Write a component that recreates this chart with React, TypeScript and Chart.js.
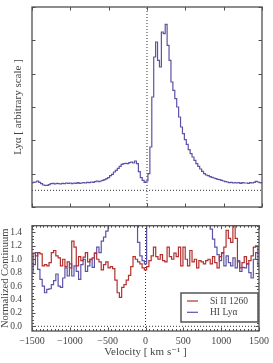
import React, { useEffect, useRef } from 'react';
import { Chart, registerables } from 'chart.js';

Chart.register(...registerables);

// ---------- data ----------
const VEL_MIN = -1500;
const VEL_MAX = 1500;
const xTickStep = 500;

// Top panel: Lyα flux (arbitrary scale), bins of 25 km/s starting at -1500
const topBinWidth = 25;
const topLyaFlux = [
  0.22, 0.24, 0.25, 0.28, 0.24, 0.20, 0.16, 0.15, 0.15, 0.17, // -1500..-1275
  0.20, 0.21, 0.19, 0.21, 0.20, 0.19, 0.21, 0.20, 0.22, 0.21, // -1250..-1025
  0.22, 0.20, 0.22, 0.21, 0.23, 0.21, 0.22, 0.23, 0.22, 0.24, // -1000..-775
  0.23, 0.25, 0.24, 0.26, 0.28, 0.26, 0.28, 0.30, 0.32, 0.35, // -750..-525
  0.38, 0.44, 0.48, 0.55, 0.60, 0.66, 0.72, 0.78, 0.80, 0.81, // -500..-275
  0.80, 0.83, 0.85, 0.82, 0.88, 0.80, 0.56, 0.38, 0.30, 0.24, // -250..-25
  0.28, 0.50, 1.30, 2.80, 4.00, 4.45, 3.90, 3.70, 4.75, 4.70, // 0..225
  4.98, 4.35, 3.90, 3.25, 3.00, 2.75, 2.50, 2.20, 1.90, 1.70, // 250..475
  1.52, 1.38, 1.22, 1.10, 1.00, 0.90, 0.80, 0.72, 0.64, 0.57, // 500..725
  0.50, 0.46, 0.44, 0.41, 0.39, 0.37, 0.35, 0.33, 0.32, 0.30, // 750..975
  0.28, 0.26, 0.25, 0.23, 0.24, 0.22, 0.23, 0.22, 0.23, 0.21, // 1000..1225
  0.23, 0.22, 0.22, 0.21, 0.23, 0.22, 0.24, 0.27, 0.25, 0.23, // 1250..1475
  0.22, // 1500
];

// Bottom panel: normalized continuum, bins of 30 km/s starting at -1500
const bottomBinWidth = 30;
const siII1260 = [
  0.93, 1.09, 1.05, 1.10, 1.08, 0.90, 0.92, 0.90, 0.95, 1.10, // -1500..-1230
  1.13, 1.05, 1.02, 0.90, 1.00, 0.89, 0.96, 0.87, 1.27, 1.18, // -1200..-930
  0.90, 1.04, 0.98, 1.03, 1.10, 0.96, 1.00, 1.02, 1.09, 1.00, // -900..-630
  0.96, 0.84, 0.92, 0.96, 0.87, 0.89, 0.86, 0.69, 0.50, 0.43, // -600..-330
  0.58, 0.62, 0.69, 0.76, 0.89, 1.04, 1.00, 0.96, 0.93, 0.87, // -300..-30
  0.84, 0.89, 0.98, 1.05, 1.18, 1.04, 1.00, 1.07, 0.98, 0.96, // 0..270
  1.18, 1.04, 1.00, 1.09, 1.04, 1.18, 0.90, 1.18, 1.00, 0.90, // 300..570
  1.13, 0.96, 1.00, 0.87, 0.98, 0.96, 0.93, 0.98, 1.00, 0.93, // 600..870
  1.04, 0.95, 0.87, 1.04, 1.10, 1.18, 1.43, 1.31, 1.25, 1.50, // 900..1170
  1.31, 0.96, 0.87, 0.95, 1.04, 0.93, 0.98, 1.05, 1.18, 1.20, // 1200..1470
  1.09, // 1500
];
const hiLyaNorm = [
  0.80, 0.92, 1.10, 0.85, 0.70, 0.60, 0.50, 0.55, 0.56, 0.62, // -1500..-1230
  0.68, 0.78, 0.60, 0.58, 0.72, 0.87, 0.75, 0.93, 0.75, 0.90, // -1200..-930
  0.82, 0.70, 0.92, 1.00, 0.82, 0.90, 1.00, 0.88, 1.09, 1.18, // -900..-630
  1.10, 1.27, 1.33, 1.42, 1.65, 1.90, 2.10, 2.50, 2.90, 3.30, // -600..-330
  3.60, 3.70, 3.60, 3.80, 3.80, 3.90, 3.30, 1.25, 1.05, 0.98, // -300..-30
  0.93, 2.60, 7.50, 15.0, 20.0, 17.0, 19.0, 21.0, 22.0, 20.0, // 0..270
  17.0, 14.0, 13.0, 12.0, 10.5, 8.80, 7.80, 6.80, 5.90, 5.10, // 300..570
  4.50, 4.00, 3.50, 3.00, 2.60, 2.30, 2.00, 1.80, 1.60, 1.45, // 600..870
  1.30, 1.18, 1.07, 0.98, 1.09, 0.90, 1.05, 0.95, 0.90, 1.02, // 900..1170
  0.87, 0.98, 0.82, 0.88, 0.87, 0.93, 0.80, 0.72, 1.00, 1.10, // 1200..1470
  0.90, // 1500
];
const seriesLabels = ['Si II 1260', 'HI Lyα'];
const zeroVelocity = 0;
const zeroLevel = 0;

const topYRange = [-0.5, 5.5];
const bottomYRange = [-0.07, 1.5];

// ---------- style ----------
const FONT = "'Liberation Serif', 'DejaVu Serif', serif";
const TEXT = '#444444';
const FRAME = '#505050';
const BLUE = '#5c53a6';
const RED = '#b3302f';

const toPoints = (vals: number[], step: number) =>
  vals.map((y, i) => ({ x: VEL_MIN + i * step, y }));

const fmtVel = (v: number) => (v < 0 ? '\u2212' + Math.abs(v) : String(v));

function makeFramePlugin(minorX: number, minorY: number) {
  return {
    id: 'frameTicks',
    afterDatasetsDraw(chart: any) {
      const { ctx, chartArea } = chart;
      const { left, right, top, bottom } = chartArea;
      const xs = chart.scales.x;
      const ys = chart.scales.y;
      const major = 3.5;
      const minor = 2;
      ctx.save();
      ctx.strokeStyle = FRAME;
      ctx.lineWidth = 1;
      ctx.beginPath();
      const vx = (px: number, len: number) => {
        const p = Math.round(px) + 0.5;
        ctx.moveTo(p, bottom);
        ctx.lineTo(p, bottom - len);
        ctx.moveTo(p, top);
        ctx.lineTo(p, top + len);
      };
      const hy = (py: number, len: number) => {
        const p = Math.round(py) + 0.5;
        ctx.moveTo(left, p);
        ctx.lineTo(left + len, p);
        ctx.moveTo(right, p);
        ctx.lineTo(right - len, p);
      };
      xs.ticks.forEach((t: any) => vx(xs.getPixelForValue(t.value), major));
      ys.ticks.forEach((t: any) => hy(ys.getPixelForValue(t.value), major));
      if (minorX > 0) {
        const n0 = Math.ceil(xs.min / minorX);
        const n1 = Math.floor(xs.max / minorX);
        for (let i = n0; i <= n1; i++) vx(xs.getPixelForValue(i * minorX), minor);
      }
      if (minorY > 0) {
        const n0 = Math.ceil(ys.min / minorY - 1e-9);
        const n1 = Math.floor(ys.max / minorY + 1e-9);
        for (let i = n0; i <= n1; i++) hy(ys.getPixelForValue(i * minorY), minor);
      }
      ctx.stroke();
      ctx.lineWidth = 1.3;
      ctx.strokeRect(left, top, right - left, bottom - top);
      ctx.restore();
    },
  };
}

const insetLegend = {
  id: 'insetLegend',
  afterDraw(chart: any) {
    const items = chart.data.datasets.filter((d: any) => d.label);
    const { ctx, chartArea } = chart;
    const w = 77;
    const h = 29;
    const x0 = chartArea.right - 1 - w;
    const y0 = chartArea.bottom - 9 - h;
    ctx.save();
    ctx.fillStyle = '#ffffff';
    ctx.fillRect(x0, y0, w, h);
    ctx.strokeStyle = '#555555';
    ctx.lineWidth = 1.5;
    ctx.strokeRect(x0, y0, w, h);
    ctx.font = `9.5px ${FONT}`;
    ctx.textBaseline = 'middle';
    ctx.textAlign = 'left';
    items.forEach((d: any, i: number) => {
      const yy = y0 + 8 + i * 11.3;
      ctx.strokeStyle = d.borderColor;
      ctx.lineWidth = 1.2;
      ctx.beginPath();
      ctx.moveTo(x0 + 6, yy);
      ctx.lineTo(x0 + 17, yy);
      ctx.stroke();
      ctx.fillStyle = TEXT;
      ctx.fillText(d.label, x0 + 29, yy);
    });
    ctx.restore();
  },
};

const dotted = (data: any[]) => ({
  data,
  borderColor: '#333333',
  borderWidth: 1,
  borderDash: [1, 2],
  pointRadius: 0,
  fill: false,
  clip: 0,
});

const xScale = (showLabels: boolean, height: number) => ({
  type: 'linear',
  min: VEL_MIN,
  max: VEL_MAX,
  grid: { display: false, drawTicks: false },
  border: { display: false },
  ticks: {
    display: showLabels,
    stepSize: xTickStep,
    autoSkip: false,
    maxRotation: 0,
    padding: 4,
    color: TEXT,
    font: { family: FONT, size: 10 },
    callback: (v: any) => fmtVel(Number(v)),
  },
  title: showLabels
    ? {
        display: true,
        text: 'Velocity [ km s\u207B\u00B9 ]',
        color: TEXT,
        font: { family: FONT, size: 11 },
        padding: { top: 0, bottom: 4.4 },
      }
    : { display: false },
  afterFit: (s: any) => {
    s.height = height;
  },
});

function App() {
  const topRef = useRef<HTMLCanvasElement>(null);
  const botRef = useRef<HTMLCanvasElement>(null);

  useEffect(() => {
    const top = new Chart(topRef.current as HTMLCanvasElement, {
      type: 'line',
      data: {
        datasets: [
          {
            data: toPoints(topLyaFlux, topBinWidth),
            borderColor: BLUE,
            borderWidth: 1.2,
            stepped: 'middle',
            pointRadius: 0,
            fill: false,
            clip: 0,
          } as any,
          dotted([
            { x: zeroVelocity, y: topYRange[0] },
            { x: zeroVelocity, y: topYRange[1] },
          ]),
          dotted([
            { x: VEL_MIN, y: zeroLevel },
            { x: VEL_MAX, y: zeroLevel },
          ]),
        ],
      },
      options: {
        responsive: false,
        animation: false,
        devicePixelRatio: 1,
        layout: { padding: { top: 7, right: 11, left: 0, bottom: 0 } },
        plugins: { legend: { display: false }, tooltip: { enabled: false } },
        scales: {
          x: xScale(false, 3) as any,
          y: {
            type: 'linear',
            min: topYRange[0],
            max: topYRange[1],
            grid: { display: false, drawTicks: false },
            border: { display: false },
            ticks: { display: false, stepSize: 1, includeBounds: false },
            title: {
              display: true,
              text: 'Lyα [ arbitrary scale ]',
              color: TEXT,
              font: { family: FONT, size: 11 },
              padding: { top: 11.4, bottom: 0 },
            },
            afterFit: (s: any) => {
              s.width = 32;
            },
          },
        },
      },
      plugins: [makeFramePlugin(0, 0)],
    });

    const bot = new Chart(botRef.current as HTMLCanvasElement, {
      type: 'line',
      data: {
        datasets: [
          {
            label: seriesLabels[0],
            data: toPoints(siII1260, bottomBinWidth),
            borderColor: RED,
            borderWidth: 1.2,
            stepped: 'middle',
            pointRadius: 0,
            fill: false,
            clip: 0,
          } as any,
          {
            label: seriesLabels[1],
            data: toPoints(hiLyaNorm, bottomBinWidth),
            borderColor: BLUE,
            borderWidth: 1.2,
            stepped: 'middle',
            pointRadius: 0,
            fill: false,
            clip: 0,
          } as any,
          dotted([
            { x: zeroVelocity, y: bottomYRange[0] },
            { x: zeroVelocity, y: bottomYRange[1] },
          ]),
          dotted([
            { x: VEL_MIN, y: zeroLevel },
            { x: VEL_MAX, y: zeroLevel },
          ]),
        ],
      },
      options: {
        responsive: false,
        animation: false,
        devicePixelRatio: 1,
        layout: { padding: { top: 4, right: 11, left: 0, bottom: 0 } },
        plugins: { legend: { display: false }, tooltip: { enabled: false } },
        scales: {
          x: xScale(true, 32) as any,
          y: {
            type: 'linear',
            min: bottomYRange[0],
            max: bottomYRange[1],
            grid: { display: false, drawTicks: false },
            border: { display: false },
            ticks: {
              stepSize: 0.2,
              includeBounds: false,
              padding: 10,
              color: TEXT,
              font: { family: FONT, size: 9.5 },
              callback: (v: any) => Number(v).toFixed(1),
            },
            title: {
              display: true,
              text: 'Normalized Continuum',
              color: TEXT,
              font: { family: FONT, size: 10.5 },
              padding: { top: -1, bottom: 0 },
            },
            afterFit: (s: any) => {
              s.width = 32;
            },
          },
        },
      },
      plugins: [makeFramePlugin(50, 0.05), insetLegend],
    });

    return () => {
      top.destroy();
      bot.destroy();
    };
  }, []);

  return (
    <div style={{ position: 'absolute', left: 0, top: 0, width: 273, height: 363, background: '#fff' }}>
      <canvas ref={topRef} width={273} height={210} style={{ display: 'block', position: 'absolute', left: 0, top: 0 }} />
      <canvas ref={botRef} width={273} height={153} style={{ display: 'block', position: 'absolute', left: 0, top: 210 }} />
    </div>
  );
}

export default App;
